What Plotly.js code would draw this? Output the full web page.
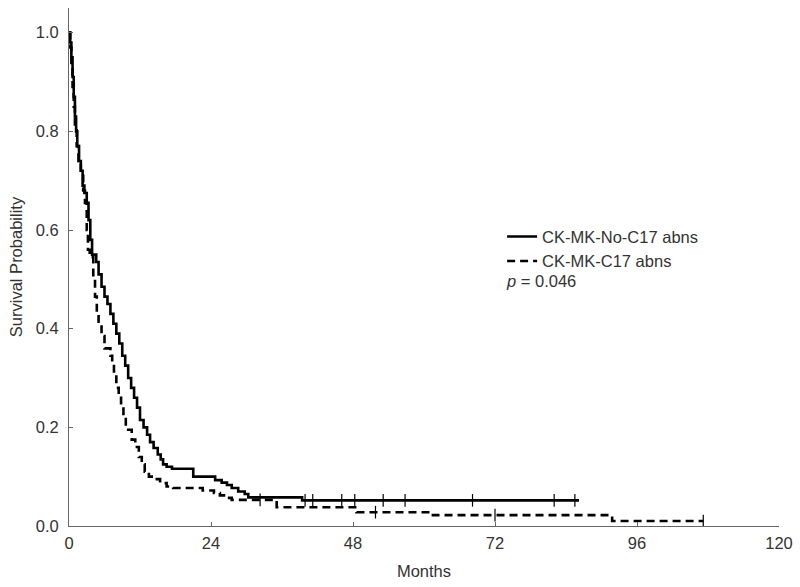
<!DOCTYPE html>
<html>
<head>
<meta charset="utf-8">
<script src="https://cdn.plot.ly/plotly-3.0.1.min.js"></script>
<style>html,body{margin:0;padding:0;background:#fff;}#chart{width:800px;height:587px;}</style>
</head>
<body>
<div id="chart"></div>
<script>
// Series 1: CK-MK-No-C17 abns (solid)
const noC17Months = [0, 0.2, 0.4, 0.6, 0.8, 1.0, 1.2, 1.4, 1.7, 2.0, 2.3, 2.6, 3.0, 3.3, 3.6, 3.9, 4.6, 5.0, 5.5, 6.0, 6.5, 7.0, 7.5, 8.0, 8.5, 9.0, 9.5, 10.0, 10.5, 11.0, 11.5, 12.0, 12.6, 13.2, 13.7, 14.3, 15.0, 15.5, 15.9, 16.5, 17.4, 21.0, 24.7, 25.8, 26.7, 27.5, 28.6, 29.7, 30.3, 39.4, 86.2];
const noC17Surv   = [1.0, 0.98, 0.95, 0.91, 0.87, 0.83, 0.80, 0.77, 0.74, 0.72, 0.69, 0.675, 0.655, 0.62, 0.58, 0.55, 0.535, 0.51, 0.485, 0.465, 0.45, 0.43, 0.41, 0.39, 0.37, 0.345, 0.325, 0.30, 0.28, 0.26, 0.24, 0.215, 0.20, 0.185, 0.17, 0.158, 0.145, 0.135, 0.125, 0.12, 0.116, 0.100, 0.093, 0.088, 0.083, 0.077, 0.070, 0.065, 0.058, 0.052, 0.052];
const noC17CensorMonths = [39.9, 41.2, 46.1, 48.3, 53.1, 56.8, 68.2, 82.0, 85.5];
const noC17CensorSurv   = [0.052, 0.052, 0.052, 0.052, 0.052, 0.052, 0.052, 0.052, 0.052];

// Series 2: CK-MK-C17 abns (dashed)
const c17Months = [0, 0.2, 0.4, 0.6, 0.8, 1.0, 1.3, 1.6, 2.0, 2.4, 2.7, 3.0, 3.2, 3.5, 4.1, 4.4, 4.7, 5.0, 5.5, 6.0, 7.0, 7.3, 7.6, 8.0, 8.4, 8.8, 9.2, 9.6, 10.6, 11.2, 11.8, 12.3, 12.8, 13.5, 14.5, 15.4, 16.5, 17.6, 22.6, 24.5, 25.5, 26.7, 27.5, 35.1, 48.6, 61.5, 91.8, 107.2];
const c17Surv   = [1.0, 0.97, 0.93, 0.89, 0.85, 0.81, 0.77, 0.74, 0.71, 0.68, 0.655, 0.60, 0.56, 0.545, 0.50, 0.465, 0.43, 0.41, 0.385, 0.36, 0.345, 0.33, 0.31, 0.28, 0.265, 0.245, 0.22, 0.195, 0.175, 0.16, 0.14, 0.125, 0.11, 0.10, 0.095, 0.087, 0.08, 0.077, 0.072, 0.067, 0.062, 0.057, 0.053, 0.038, 0.028, 0.022, 0.010, 0.010];
const c17CensorMonths = [32.3, 51.8, 72.0, 107.2];
const c17CensorSurv   = [0.053, 0.028, 0.022, 0.010];

const seriesNames = ['CK-MK-No-C17 abns', 'CK-MK-C17 abns'];
const xTicks = [0, 24, 48, 72, 96, 120];
const yTicks = [0, 0.2, 0.4, 0.6, 0.8, 1.0];
const yTickText = ['0.0', '0.2', '0.4', '0.6', '0.8', '1.0'];

const textColor = '#333';
const fs = 16.5;
const traces = [
  {x: noC17Months, y: noC17Surv, mode: 'lines', line: {shape: 'hv', color: '#000', width: 2.6}, name: seriesNames[0]},
  {x: c17Months, y: c17Surv, mode: 'lines', line: {shape: 'hv', color: '#000', width: 2.6, dash: '8px,5px'}, name: seriesNames[1]},
  {x: noC17CensorMonths, y: noC17CensorSurv, mode: 'markers', marker: {symbol: 'line-ns', size: 9, line: {color: '#000', width: 1.2}}, showlegend: false, hoverinfo: 'skip'},
  {x: c17CensorMonths, y: c17CensorSurv, mode: 'markers', marker: {symbol: 'line-ns', size: 9, line: {color: '#000', width: 1.2}}, showlegend: false, hoverinfo: 'skip'}
];

const layout = {
  width: 800, height: 587,
  margin: {l: 69, r: 21, t: 8, b: 61},
  paper_bgcolor: '#fff', plot_bgcolor: '#fff',
  font: {family: 'Liberation Sans, Arial, sans-serif', size: fs, color: textColor},
  showlegend: true,
  legend: {x: 0.61, y: 0.592, xanchor: 'left', yanchor: 'top', bgcolor: 'rgba(0,0,0,0)', font: {size: fs, color: textColor}, tracegroupgap: 0, itemwidth: 30},
  xaxis: {
    range: [0, 120], tickvals: xTicks, ticktext: xTicks.map(String),
    showgrid: false, zeroline: false, showline: true, linecolor: '#666', linewidth: 1,
    ticks: 'inside', ticklen: 4, tickcolor: '#666', ticklabelstandoff: 2,
    title: {text: 'Months', font: {size: fs, color: textColor}, standoff: 14}
  },
  yaxis: {
    range: [0, 1.05], tickvals: yTicks, ticktext: yTickText,
    showgrid: false, zeroline: false, showline: true, linecolor: '#666', linewidth: 1,
    ticks: 'inside', ticklen: 4, tickcolor: '#666', ticklabelstandoff: 6,
    title: {text: 'Survival Probability', font: {size: fs, color: textColor}, standoff: 8}
  },
  annotations: [
    {xref: 'paper', yref: 'paper', x: 0.613, y: 0.473, xanchor: 'left', yanchor: 'middle', showarrow: false,
     text: '<i>p</i> = 0.046', font: {size: fs, color: textColor}}
  ]
};

Plotly.newPlot('chart', traces, layout, {displayModeBar: false, staticPlot: true});
</script>
</body>
</html>
